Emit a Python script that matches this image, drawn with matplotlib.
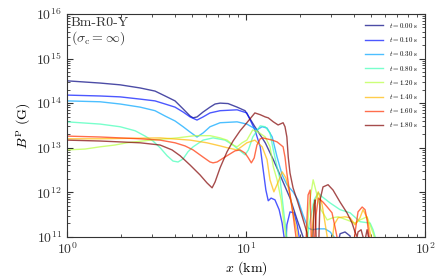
import numpy as np
import matplotlib
matplotlib.use("Agg")
import matplotlib.pyplot as plt

plt.rcParams['font.family'] = 'serif'
plt.rcParams['font.serif'] = ['cmr10']
plt.rcParams['mathtext.fontset'] = 'cm'
plt.rcParams['axes.formatter.use_mathtext'] = True

# times of the snapshots (s)
times = [0.00, 0.10, 0.30, 0.80, 1.20, 1.40, 1.60, 1.80]

# radius x (km) and log10 B^P (G); 10.5 = below the axis
x_t000 = [1.00, 1.53, 1.98, 2.56, 3.10, 3.53, 4.01, 4.45, 4.87, 5.06, 5.32, 5.75, 6.29, 6.71, 7.16,
          7.93, 8.91, 9.87, 11.2, 12.8, 14.2, 15.9, 17.6, 19.3, 20.8, 21.4, 31.4, 33.5, 35.7, 38.1, 39.6]
lb_t000 = [14.50, 14.45, 14.41, 14.34, 14.27, 14.16, 14.05, 13.87, 13.71, 13.67, 13.69, 13.80, 13.91, 13.98, 14.00,
           13.99, 13.91, 13.83, 13.47, 13.11, 12.73, 12.28, 11.87, 11.38, 11.00, 10.7, 10.5, 11.07, 11.11, 11.02, 10.5]

x_t010 = [1.00, 1.53, 1.98, 2.56, 3.10, 3.53, 4.01, 4.45, 4.87, 5.32, 5.75, 6.29, 7.16, 8.91, 10.1,
          11.2, 12.0, 12.4, 12.9, 13.3, 13.8, 14.5, 15.3, 15.9, 16.3, 16.5, 16.9, 17.6, 18.5, 19.3,
          19.8, 20.3]
lb_t010 = [14.18, 14.16, 14.14, 14.09, 14.05, 13.98, 13.91, 13.80, 13.69, 13.62, 13.69, 13.78, 13.83, 13.85, 13.78,
           13.40, 13.02, 12.57, 12.05, 11.81, 11.87, 11.83, 11.61, 11.31, 11.00, 10.5, 11.27, 11.56, 11.54, 11.27,
           11.00, 10.5]

x_t030 = [1.00, 1.53, 1.98, 2.56, 3.10, 3.53, 4.01, 4.45, 4.87, 5.32, 5.75, 6.29, 7.16, 8.91, 10.1,
          11.5, 12.3, 13.1, 14.0, 14.9, 15.9, 16.9, 18.3, 19.5, 20.8, 22.2, 23.4, 25.3, 27.6, 29.5,
          31.0, 32.0]
lb_t030 = [14.05, 14.03, 13.98, 13.91, 13.83, 13.71, 13.60, 13.47, 13.35, 13.24, 13.33, 13.47, 13.56, 13.58, 13.53,
           13.40, 13.47, 13.44, 13.24, 12.79, 12.39, 12.17, 12.01, 11.83, 11.49, 11.20, 11.16, 11.18, 11.18, 11.11,
           11.00, 10.5]

x_t080 = [1.00, 1.53, 1.98, 2.40, 2.73, 3.02, 3.31, 3.62, 3.91, 4.17, 4.45, 4.74, 5.06, 5.75, 6.54,
          7.63, 8.46, 9.26, 9.87, 10.3, 10.9, 12.0, 12.8, 13.6, 14.2, 14.9, 15.5, 16.3, 16.9, 17.6,
          21.4, 22.5, 24.0, 25.3, 26.6, 29.5, 33.5, 38.1, 43.3, 49.3, 51.2, 52.6, 54.0]
lb_t080 = [13.58, 13.53, 13.47, 13.38, 13.26, 13.15, 13.00, 12.82, 12.70, 12.68, 12.75, 12.91, 13.02, 13.17, 13.22,
           13.17, 13.06, 12.93, 12.84, 12.95, 13.24, 13.49, 13.47, 13.33, 12.95, 12.57, 12.28, 11.49, 11.00, 10.5,
           10.5, 11.27, 11.83, 11.99, 11.90, 11.76, 11.61, 11.54, 11.34, 11.31, 11.16, 11.00, 10.5]

x_t120 = [1.00, 1.26, 1.53, 1.85, 2.16, 2.91, 4.12, 5.19, 6.29, 7.16, 7.83, 8.46, 8.91, 9.50, 10.1,
          10.9, 11.7, 12.8, 13.6, 14.2, 14.9, 15.7, 16.3, 16.7, 17.2, 21.4, 22.5, 23.7, 24.9, 26.2,
          28.4, 30.6, 32.7, 36.6, 40.6, 43.3, 47.4, 51.2, 52.6]
lb_t120 = [12.95, 12.97, 13.02, 13.06, 13.11, 13.17, 13.22, 13.27, 13.27, 13.22, 13.17, 13.06, 13.02, 13.11, 13.17,
           13.40, 13.35, 13.24, 13.02, 12.57, 12.28, 11.83, 11.27, 11.00, 10.5, 10.5, 11.72, 12.28, 11.94, 11.61,
           11.38, 11.43, 11.45, 11.38, 11.31, 11.38, 11.45, 11.09, 10.93]

x_t140 = [1.00, 1.53, 3.31, 4.87, 6.05, 7.16, 7.83, 8.91, 10.1, 11.2, 12.3, 13.1, 13.6, 14.3, 15.1,
          15.9, 16.7, 17.6, 18.3, 19.3, 19.8, 22.8, 24.0, 25.3, 26.6, 28.4, 29.5, 31.0, 32.7, 35.7,
          38.1, 40.6, 43.3, 45.0, 47.4, 49.9, 51.2]
lb_t140 = [13.20, 13.20, 13.22, 13.17, 13.11, 13.04, 13.00, 12.95, 13.11, 13.17, 13.02, 12.73, 12.28, 12.01, 12.23,
           12.46, 12.32, 11.94, 11.54, 11.09, 10.5, 10.5, 11.72, 12.01, 11.72, 11.00, 10.5, 11.27, 11.43, 11.45,
           11.43, 11.27, 11.43, 11.61, 11.43, 11.00, 10.5]

x_t160 = [1.00, 1.53, 2.56, 3.31, 4.01, 4.56, 5.06, 5.75, 6.29, 6.54, 6.89, 7.34, 7.83, 8.68, 9.26,
          9.87, 10.3, 10.7, 11.1, 11.5, 12.0, 12.4, 14.0, 14.9, 16.1, 16.5, 16.9, 17.6, 18.3, 19.0,
          19.5, 21.4, 22.2, 22.8, 23.1, 23.7, 24.6, 25.3, 26.9, 28.4, 30.2, 31.4, 32.2, 33.1, 39.1,
          40.6, 42.2, 44.5, 46.2, 47.4, 48.7, 49.9]
lb_t160 = [13.26, 13.24, 13.20, 13.17, 13.11, 13.04, 12.95, 12.79, 12.68, 12.66, 12.68, 12.75, 12.82, 12.93, 12.95,
           12.88, 12.77, 12.66, 12.77, 13.06, 13.20, 13.22, 13.17, 13.13, 13.02, 12.79, 12.43, 11.94, 11.49, 11.00,
           10.5, 10.5, 11.94, 12.05, 11.00, 10.5, 11.49, 11.87, 11.78, 11.67, 11.54, 11.22, 11.00, 10.5, 10.5,
           11.09, 11.56, 11.67, 11.61, 11.38, 11.00, 10.5]

x_t180 = [1.00, 1.53, 2.56, 3.31, 3.86, 4.28, 4.87, 5.53, 6.05, 6.46, 6.71, 7.16, 7.83, 8.46, 9.26,
          10.1, 11.2, 12.0, 12.8, 13.3, 14.2, 15.1, 16.1, 16.5, 16.9, 17.2, 17.6, 18.3, 19.5, 20.6,
          21.9, 22.5, 23.4, 24.0, 24.3, 24.6, 25.3, 25.9, 26.9, 28.7, 30.6, 33.5, 36.6, 39.1, 40.6,
          41.7, 42.2, 43.9, 45.0, 46.2, 47.4, 48.7]
lb_t180 = [13.17, 13.15, 13.11, 13.06, 12.95, 12.82, 12.61, 12.39, 12.21, 12.10, 12.23, 12.55, 12.91, 13.15, 13.38,
           13.56, 13.78, 13.74, 13.69, 13.67, 13.58, 13.51, 13.56, 13.47, 13.24, 12.79, 12.43, 12.10, 11.76, 11.45,
           11.09, 10.5, 10.5, 11.72, 11.83, 11.00, 10.5, 11.83, 12.12, 12.17, 12.05, 11.78, 11.54, 11.31, 11.11,
           11.00, 11.11, 11.16, 11.00, 10.93, 11.16, 10.93]

xs = [x_t000, x_t010, x_t030, x_t080, x_t120, x_t140, x_t160, x_t180]
lbs = [lb_t000, lb_t010, lb_t030, lb_t080, lb_t120, lb_t140, lb_t160, lb_t180]

fig = plt.figure(figsize=(4.47, 2.79), dpi=100)
ax = fig.add_axes([0.150, 0.151, 0.801, 0.799])

cmap = plt.get_cmap('jet')
for i, t in enumerate(times):
    ax.plot(xs[i], 10 ** np.array(lbs[i]), color=cmap(i / 7.0), alpha=0.7, lw=1.0,
            label=r'$t = %.2f$ s' % t)

ax.set_xscale('log')
ax.set_yscale('log')
ax.set_xlim(1, 100)
ax.set_ylim(1e11, 1e16)
ax.set_xlabel(r'$x$ (km)', fontsize=10, labelpad=1)
ax.set_ylabel(r'$B^{\rm P}$ (G)', fontsize=10, labelpad=2)
ax.tick_params(which='both', direction='in', top=True, right=True, labelsize=10, colors='#333333')
ax.tick_params(which='major', length=4.5, width=0.8)
ax.tick_params(which='minor', length=2.2, width=0.6)
for s in ax.spines.values():
    s.set_color('#333333')

ax.text(0.01, 0.985, 'Bm-R0-Y\n' + r'($\sigma_{\rm c} = \infty$)', transform=ax.transAxes,
        va='top', ha='left', fontsize=10, color='#333333', linespacing=1.0)

ax.legend(loc='upper right', frameon=False, fontsize=5, handlelength=2.6, labelspacing=0.75,
          borderaxespad=0.6)

fig.savefig('out.png', dpi=100)
